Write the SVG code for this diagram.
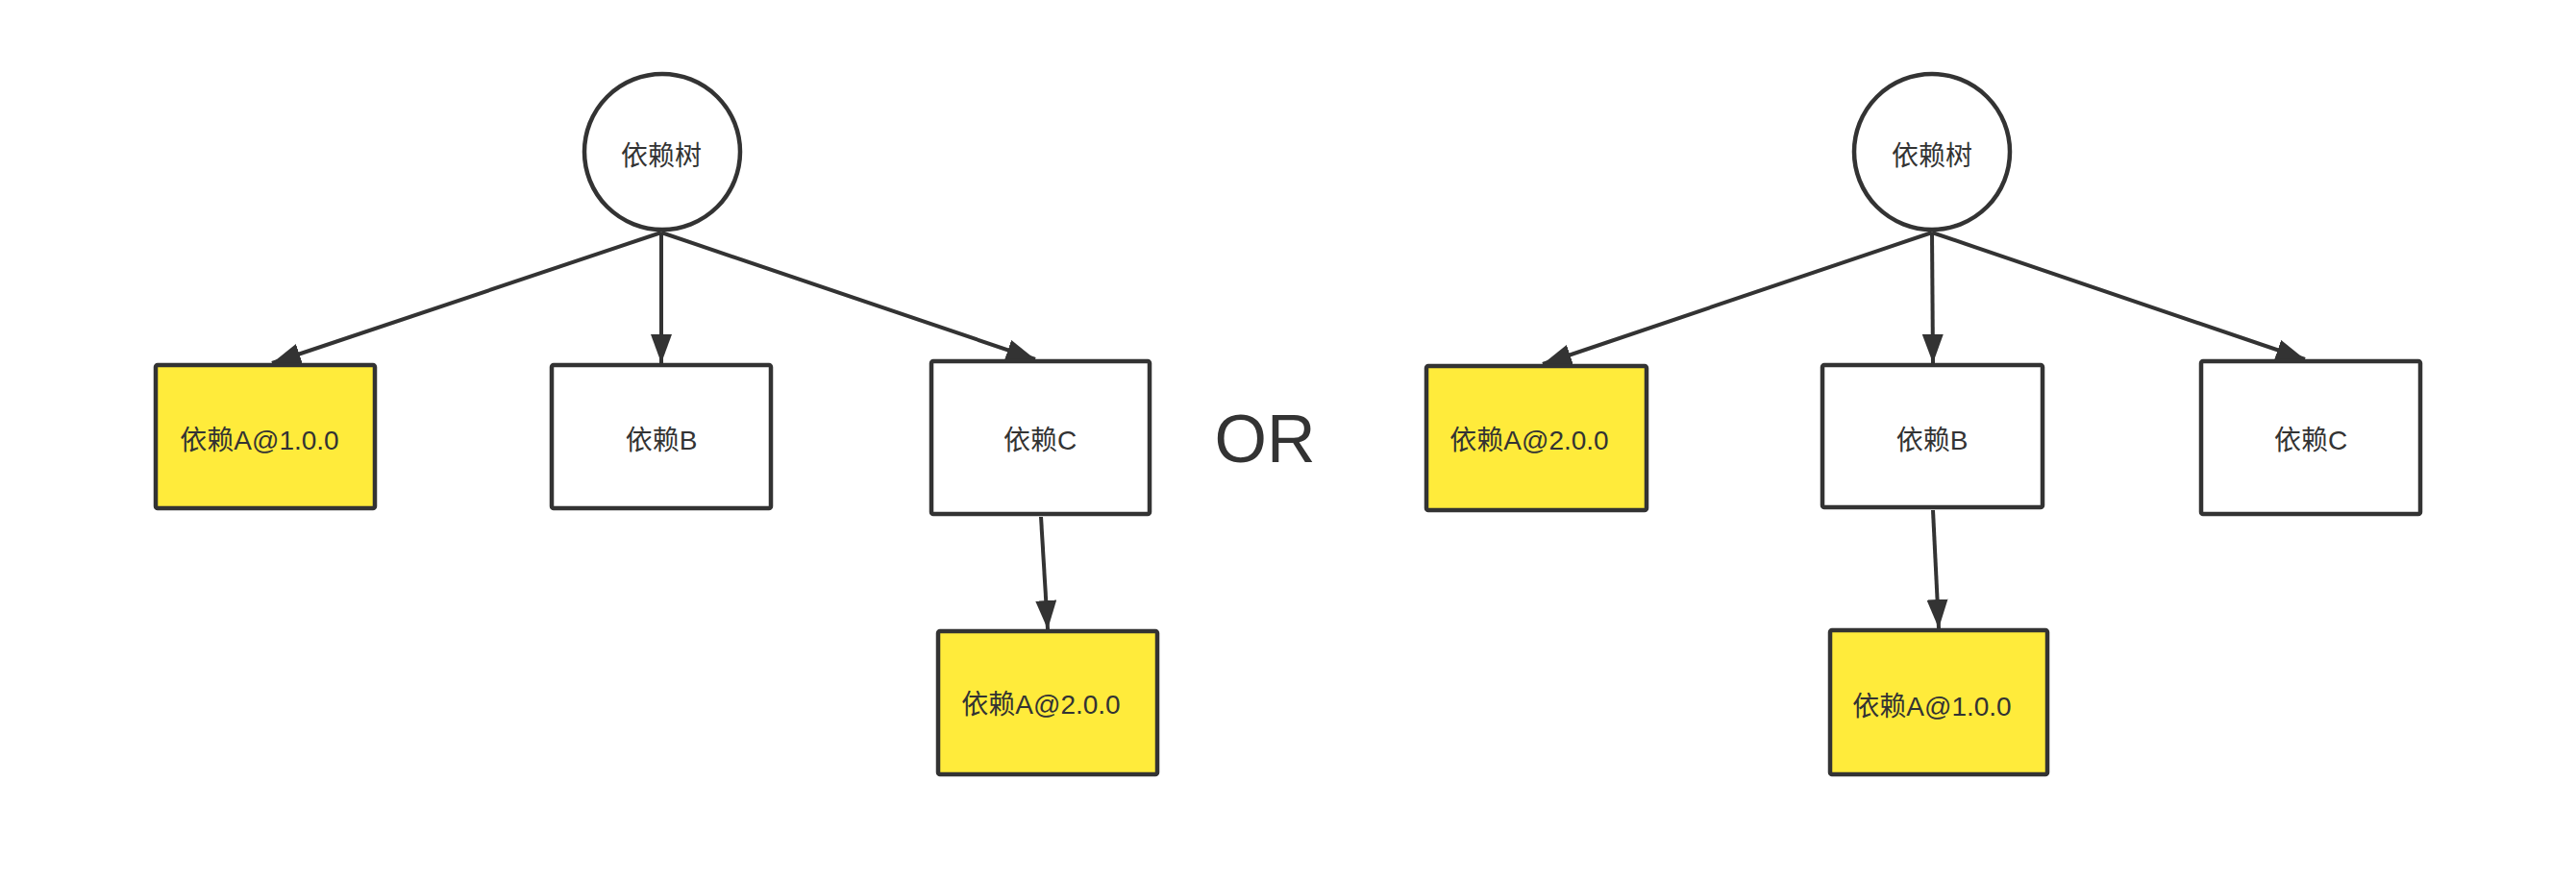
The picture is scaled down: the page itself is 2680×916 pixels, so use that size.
<svg xmlns="http://www.w3.org/2000/svg" width="2680" height="916" viewBox="0 0 2680 916">
  <style>
    .box { stroke: #333333; stroke-width: 4.5; }
    .plain { fill: #ffffff; }
    .yellow { fill: #ffeb3b; }
    .root { fill: #ffffff; stroke: #333333; stroke-width: 4.5; }
    .lbl { font-family: "Liberation Sans", "Noto Sans CJK SC", sans-serif; font-size: 28px; fill: #333333; text-anchor: middle; }
    .or { font-family: "Liberation Sans", "Noto Sans CJK SC", sans-serif; font-size: 70px; fill: #333333; text-anchor: middle; }
    .edge { stroke: #333333; stroke-width: 4; fill: none; marker-end: url(#arrow); }
  </style>
  <defs>
    <marker id="arrow" markerUnits="userSpaceOnUse" markerWidth="30" markerHeight="22" refX="30" refY="11" orient="auto">
      <path d="M0,0 L30,11 L0,22 z" fill="#333333"/>
    </marker>
  </defs>
  <rect width="2680" height="916" fill="#ffffff"/>

  <g id="connectors">
    <line class="edge" x1="688" y1="242" x2="283" y2="378"/>
    <line class="edge" x1="688" y1="242" x2="688" y2="378"/>
    <line class="edge" x1="688" y1="242" x2="1077" y2="374"/>
    <line class="edge" x1="1083" y1="538" x2="1090" y2="655"/>
    <line class="edge" x1="2010" y1="242" x2="1605" y2="379"/>
    <line class="edge" x1="2010" y1="242" x2="2011" y2="378"/>
    <line class="edge" x1="2010" y1="242" x2="2398" y2="374"/>
    <line class="edge" x1="2011" y1="531" x2="2017" y2="654"/>
  </g>

  <g id="root-left">
    <circle class="root" cx="689" cy="158" r="81"/>
    <text class="lbl" x="688" y="172">依赖树</text>
  </g>
  <g id="left-a1">
    <rect class="box yellow" x="162" y="380" width="228" height="149" rx="2"/>
    <text class="lbl" x="270" y="468">依赖A@1.0.0</text>
  </g>
  <g id="left-b">
    <rect class="box plain" x="574" y="380" width="228" height="149" rx="2"/>
    <text class="lbl" x="688" y="468">依赖B</text>
  </g>
  <g id="left-c">
    <rect class="box plain" x="969" y="376" width="227" height="159" rx="2"/>
    <text class="lbl" x="1082" y="468">依赖C</text>
  </g>
  <g id="left-a2">
    <rect class="box yellow" x="976" y="657" width="228" height="149" rx="2"/>
    <text class="lbl" x="1083" y="743">依赖A@2.0.0</text>
  </g>

  <g id="or-label">
    <text class="or" x="1316" y="481">OR</text>
  </g>

  <g id="root-right">
    <circle class="root" cx="2010" cy="158" r="81"/>
    <text class="lbl" x="2010" y="172">依赖树</text>
  </g>
  <g id="right-a2">
    <rect class="box yellow" x="1484" y="381" width="229" height="150" rx="2"/>
    <text class="lbl" x="1591" y="468">依赖A@2.0.0</text>
  </g>
  <g id="right-b">
    <rect class="box plain" x="1896" y="380" width="229" height="148" rx="2"/>
    <text class="lbl" x="2010" y="468">依赖B</text>
  </g>
  <g id="right-c">
    <rect class="box plain" x="2290" y="376" width="228" height="159" rx="2"/>
    <text class="lbl" x="2404" y="468">依赖C</text>
  </g>
  <g id="right-a1">
    <rect class="box yellow" x="1904" y="656" width="226" height="150" rx="2"/>
    <text class="lbl" x="2010" y="745">依赖A@1.0.0</text>
  </g>
</svg>
